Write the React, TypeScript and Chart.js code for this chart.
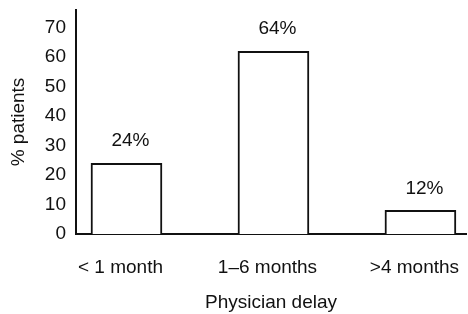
import React, { useEffect, useRef } from 'react';
import { Chart, registerables } from 'chart.js';

Chart.register(...registerables);

const categories = ['< 1 month', '1–6 months', '>4 months'];
const values = [24, 62, 8];
const valueLabels = ['24%', '64%', '12%'];
const yTicks = [0, 10, 20, 30, 40, 50, 60, 70];
const xTitle = 'Physician delay';
const yTitle = '% patients';

const FONT = "'Liberation Sans', Arial, Helvetica, sans-serif";
const INK = '#111';

const valueLabelPlugin = {
  id: 'valueLabels',
  afterDatasetsDraw(chart: any) {
    const ctx = chart.ctx;
    const meta = chart.getDatasetMeta(0);
    ctx.save();
    ctx.font = `19px ${FONT}`;
    ctx.fillStyle = INK;
    ctx.textAlign = 'center';
    ctx.textBaseline = 'middle';
    meta.data.forEach((bar: any, i: number) => {
      ctx.fillText(valueLabels[i], bar.x + 4, bar.y - 22);
    });
    ctx.restore();
  },
};

export default function App() {
  const ref = useRef<HTMLCanvasElement | null>(null);

  useEffect(() => {
    if (!ref.current) return;
    const font = { family: FONT, size: 19 };
    const chart = new Chart(ref.current, {
      type: 'bar',
      data: {
        datasets: [
          {
            data: values.map((y, i) => ({ x: i, y })),
            backgroundColor: '#fff',
            borderColor: INK,
            borderWidth: 2,
            barThickness: 71,
          },
        ],
      },
      options: {
        responsive: false,
        animation: false,
        layout: { padding: { left: 0, right: 2, top: 10, bottom: 0 } },
        plugins: {
          legend: { display: false },
          tooltip: { enabled: false },
        },
        scales: {
          x: {
            type: 'linear',
            offset: false,
            min: -0.3435,
            max: 2.31,
            grid: { display: false, drawTicks: false, offset: false },
            border: { display: true, color: INK, width: 2 },
            afterBuildTicks: (s: any) => {
              s.ticks = categories.map((_, i) => ({ value: i }));
            },
            ticks: {
              callback: (v: any) => categories[v],
              padding: 22,
              labelOffset: -6,
              font,
              color: INK,
              maxRotation: 0,
              autoSkip: false,
            },
            title: { display: true, text: xTitle, font, color: INK, padding: 0 },
            afterFit: (s: any) => {
              s.height = 80;
              s.paddingLeft = 0;
              s.paddingRight = 0;
            },
          },
          y: {
            min: 0,
            max: 76,
            afterBuildTicks: (s: any) => {
              s.ticks = yTicks.map((v) => ({ value: v }));
            },
            grid: { display: false, drawTicks: false },
            border: { display: true, color: INK, width: 2 },
            ticks: { padding: 10, font, color: INK },
            title: { display: true, text: yTitle, font, color: INK, padding: { top: 7, bottom: 0 } },
            afterFit: (s: any) => {
              s.width = 76;
              s.paddingTop = 0;
              s.paddingBottom = 0;
            },
          },
        },
      },
      plugins: [valueLabelPlugin],
    } as any);
    return () => chart.destroy();
  }, []);

  return (
    <div style={{ position: 'absolute', left: 0, top: 0, width: 468, height: 314, background: '#fff' }}>
      <canvas ref={ref} width={468} height={314} style={{ width: 468, height: 314 }} />
    </div>
  );
}
